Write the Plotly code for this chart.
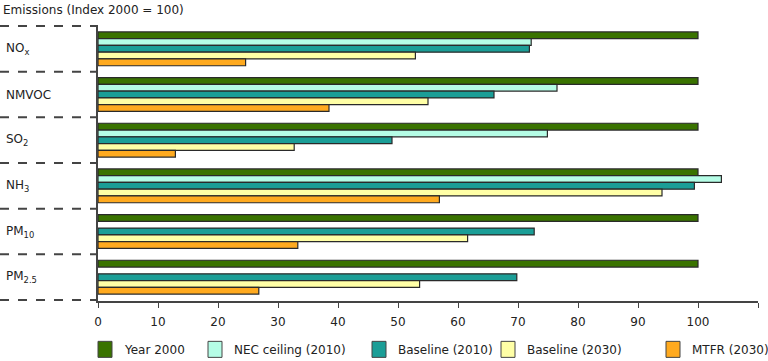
import plotly.graph_objects as go

# ---- data ----
categories = ["NO<sub>x</sub>", "NMVOC", "SO<sub>2</sub>", "NH<sub>3</sub>", "PM<sub>10</sub>", "PM<sub>2.5</sub>"]
series_names = ["Year 2000", "NEC ceiling (2010)", "Baseline (2010)", "Baseline (2030)", "MTFR (2030)"]
year_2000 = [100, 100, 100, 100, 100, 100]
nec_ceiling_2010 = [72.2, 76.5, 74.9, 103.9, None, None]
baseline_2010 = [71.9, 66.0, 49.0, 99.4, 72.7, 69.8]
baseline_2030 = [52.9, 55.0, 32.7, 94.0, 61.6, 53.6]
mtfr_2030 = [24.6, 38.5, 12.9, 56.9, 33.3, 26.8]
x_ticks = [0, 10, 20, 30, 40, 50, 60, 70, 80, 90, 100, 110]
y_title = "Emissions (Index 2000 = 100)"

series_values = [year_2000, nec_ceiling_2010, baseline_2010, baseline_2030, mtfr_2030]
colors = ["#3a7300", "#b5fde6", "#1b9e97", "#ffffa6", "#ffaa1f"]

W, H = 768, 361
L, R, T, B = 98, 758, 25, 300.7  # plot area in pixels


def px(x):
    return (x - L) / (R - L)


def py(y):
    return (B - y) / (B - T)


fig = go.Figure()
for name, vals, col in zip(series_names, series_values, colors):
    fig.add_trace(go.Bar(
        y=categories, x=vals, name=name, orientation="h",
        marker=dict(color=col, line=dict(color="#2a2a2a", width=1.2)),
        showlegend=False,
    ))

shapes = []
annotations = []
# dashed separators on the left
for i in range(len(categories) + 1):
    shapes.append(dict(type="line", xref="paper", yref="y",
                       x0=px(0), x1=px(L), y0=i - 0.5, y1=i - 0.5,
                       line=dict(color="#444444", width=2, dash="dash")))
# category labels
for c in categories:
    annotations.append(dict(text=c, xref="paper", yref="y", x=px(4), y=c,
                            xanchor="left", yanchor="middle", showarrow=False,
                            font=dict(size=12, color="#222222")))
# title
annotations.append(dict(text=y_title, xref="paper", yref="paper", x=px(1), y=py(10),
                        xanchor="left", yanchor="middle", showarrow=False,
                        font=dict(size=12, color="#222222")))
# custom legend
legend_x = [98, 208, 372, 501, 666]
for name, col, lx in zip(series_names, colors, legend_x):
    shapes.append(dict(type="rect", xref="paper", yref="paper",
                       x0=px(lx), x1=px(lx + 14), y0=py(357), y1=py(341),
                       fillcolor=col, line=dict(color="#444444", width=1)))
    annotations.append(dict(text=name, xref="paper", yref="paper", x=px(lx + 24), y=py(350),
                            xanchor="left", yanchor="middle", showarrow=False,
                            font=dict(size=12, color="#222222")))

fig.update_layout(
    width=W, height=H,
    margin=dict(l=L, r=W - R, t=T, b=H - B),
    paper_bgcolor="white", plot_bgcolor="white",
    barmode="group", bargap=0.26, bargroupgap=0,
    font=dict(family="DejaVu Sans, Verdana, sans-serif", size=12, color="#222222"),
    xaxis=dict(range=[0, 110], tickvals=x_ticks, ticks="outside", ticklen=5,
               tickcolor="#444444", showline=True, linecolor="#444444", linewidth=2,
               showgrid=False, zeroline=False, fixedrange=True, ticklabelstandoff=4,
               tickfont=dict(size=12)),
    yaxis=dict(categoryorder="array", categoryarray=categories, autorange="reversed",
               showticklabels=False, ticks="", showline=True, linecolor="#444444",
               linewidth=2, showgrid=False, zeroline=False, fixedrange=True),
    shapes=shapes, annotations=annotations, showlegend=False,
)

fig.write_html("out.html", config={"displayModeBar": False},
               post_script="document.body.style.margin='0';document.body.style.overflow='hidden';")
